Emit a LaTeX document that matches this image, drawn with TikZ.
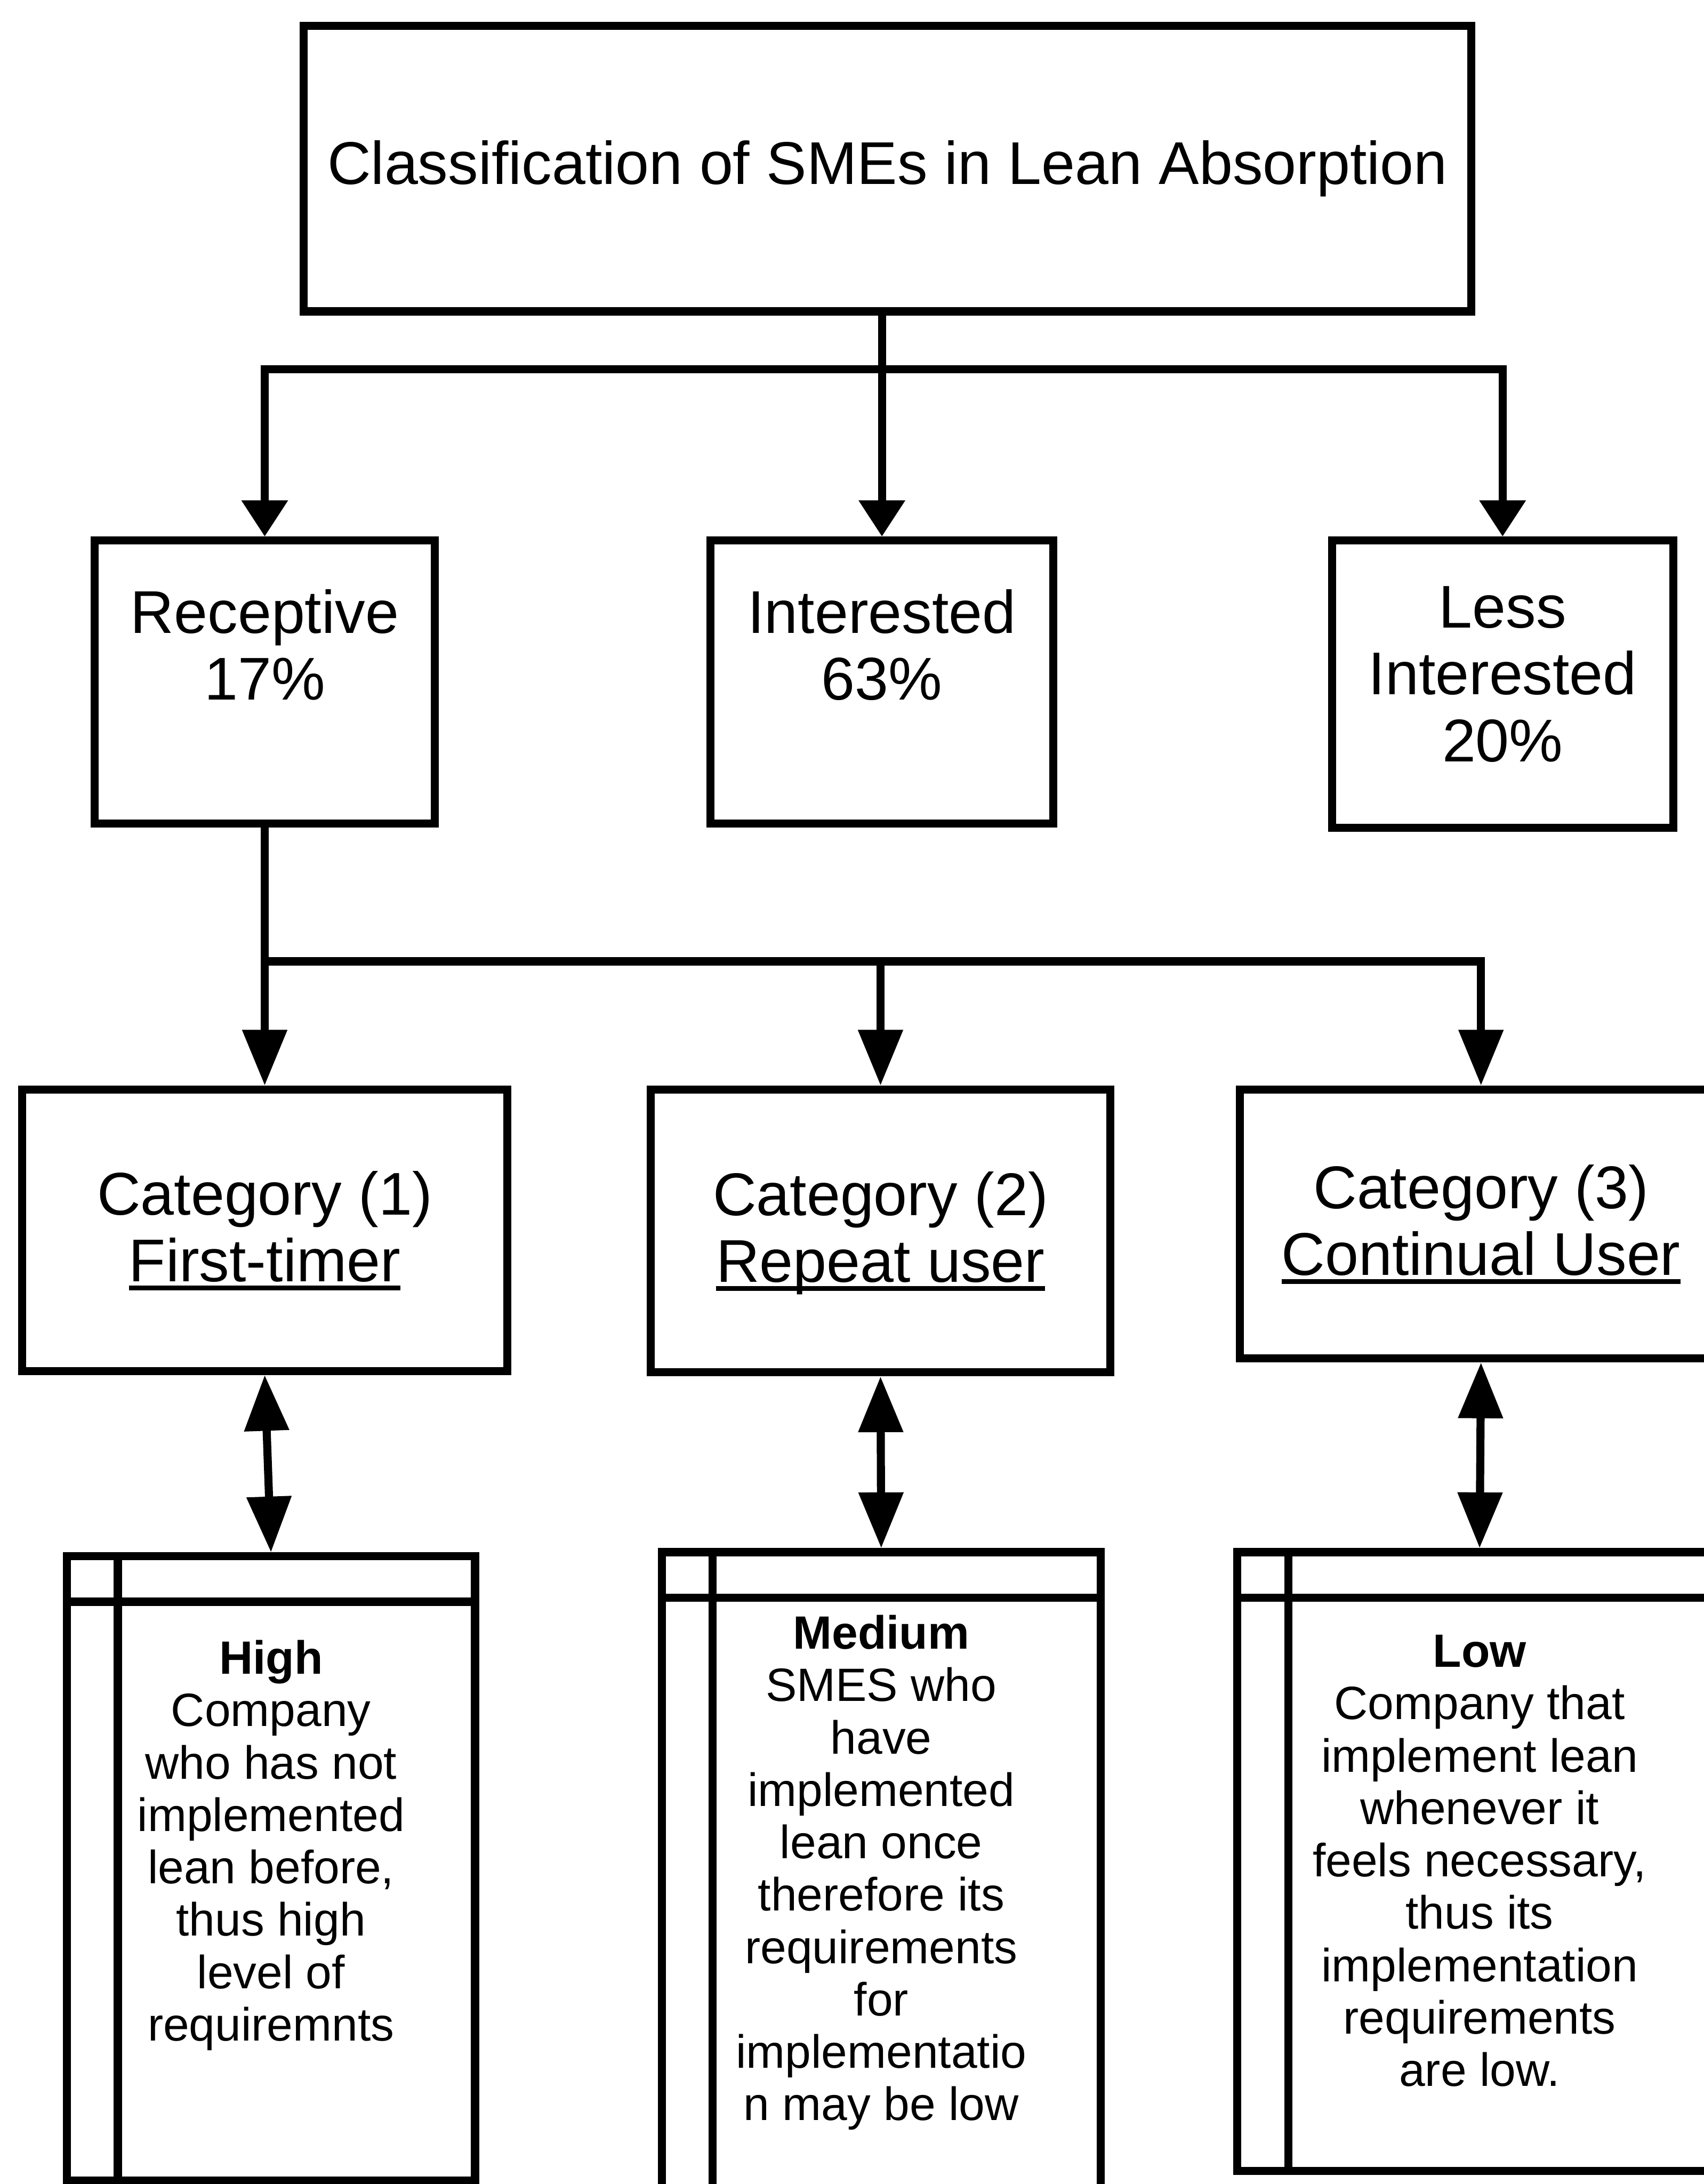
\documentclass[tikz,border=0pt]{standalone}
\usepackage{fontspec}
\setmainfont{Liberation Sans}
\usetikzlibrary{arrows.meta,calc}
\newcommand\bigtxt{\fontsize{43.3}{48}\selectfont}
\newcommand\lanetxt{\fontsize{33.5}{37.6}\selectfont}
\newcommand\ulin[1]{\setbox0=\hbox{#1}\rlap{\rule[-6.2pt]{\wd0}{3.4pt}}\box0}
% first-line strut, a little taller so the text block sits slightly lower
\newcommand\tstrut{\rule{0pt}{40pt}}
% last-line strut, a little deeper so the text block sits slightly higher
\newcommand\bstrut{\rule[-18.4pt]{0pt}{0pt}}

\begin{document}
\begin{tikzpicture}[x=1pt,y=-1pt,
  lw/.style={line width=5.8pt},
  box/.style={draw, lw, rectangle, inner sep=2pt, align=center, font=\bigtxt},
  lane/.style={draw, lw, rectangle, inner sep=0pt},
  lanetext/.style={inner sep=0pt, align=center, font=\lanetxt, anchor=north},
  conn/.style={lw, -{Triangle[length=26pt,width=32pt]}},
  conn2/.style={lw, -{Triangle[length=40pt,width=31pt]}},
  dbl/.style={lw, {Triangle[length=40pt,width=31pt]}-{Triangle[length=40pt,width=31pt]}},
  rule/.style={lw}]
\useasboundingbox (0,0) rectangle (1223,1567.5);
\clip (0,0) rectangle (1223,1567.5);

% top level
\node[box, minimum width=838, minimum height=205] (title) at (637,121)
  {Classification of SMEs in Lean Absorption};

% first level
\node[box, minimum width=244, minimum height=203] (recv) at (190,489.5)
  {\tstrut Receptive\\\strut 17\%\\\strut};
\node[box, minimum width=246, minimum height=203] (intr) at (633,489.5)
  {\tstrut Interested\\\strut 63\%\\\strut};
\node[box, minimum width=245, minimum height=206] (less) at (1078.5,491)
  {\strut Less\\\strut Interested\\\strut 20\%\bstrut};

% categories
\node[box, minimum width=348, minimum height=202] (cat1) at (190,883)
  {\tstrut Category (1)\\\strut\ulin{First-timer}};
\node[box, minimum width=330, minimum height=203] (cat2) at (632,883.5)
  {\tstrut Category (2)\\\strut\ulin{Repeat user}};
\node[box, minimum width=346, minimum height=193] (cat3) at (1063,878.5)
  {\tstrut Category (3)\\\strut\ulin{Continual User}};

% requirement levels
\node[lane, minimum width=293, minimum height=448] (low1) at (194.5,1341) {};
\node[lane, minimum width=315, minimum height=486] (low2) at (632.5,1357) {};
\node[lane, minimum width=348, minimum height=444] (low3) at (1062,1336) {};
\foreach \n in {low1,low2,low3}{
  \draw[rule] ($(\n.north west)+(0,35.5)$) -- ($(\n.north east)+(0,35.5)$);
  \draw[rule] ($(\n.north west)+(39.5,0)$) -- ($(\n.south west)+(39.5,0)$);
}
\node[lanetext] (txt1) at (194.5,1175)
  {\strut\textbf{High}\\\strut Company\\\strut who has not\\\strut implemented\\\strut lean before,\\\strut thus high\\\strut level of\\\strut requiremnts};
\node[lanetext] (txt2) at (632.5,1157)
  {\strut\textbf{Medium}\\\strut SMES who\\\strut have\\\strut implemented\\\strut lean once\\\strut therefore its\\\strut requirements\\\strut for\\\strut implementatio\\\strut n may be low};
\node[lanetext] (txt3) at (1062,1170)
  {\strut\textbf{Low}\\\strut Company that\\\strut implement lean\\\strut whenever it\\\strut feels necessary,\\\strut thus its\\\strut implementation\\\strut requirements\\\strut are low.};

% connectors
\coordinate (bus1) at (633,265);
\coordinate (bus2) at (190,690);
\draw[rule] (title.south -| intr.north) -- (bus1);
\draw[conn] (bus1) -- (intr.north);
\draw[conn] (bus1) -| (recv.north);
\draw[conn] (bus1) -| (less.north);

\draw[rule] (recv.south) -- (bus2);
\draw[conn2] (bus2) -- (cat1.north);
\draw[conn2] (bus2) -| (cat2.north);
\draw[conn2] (bus2) -| (cat3.north);

\draw[dbl] (cat1.south) -- (low1.north);
\draw[dbl] (cat2.south) -- (low2.north);
\draw[dbl] (cat3.south) -- (low3.north);
\end{tikzpicture}
\end{document}
